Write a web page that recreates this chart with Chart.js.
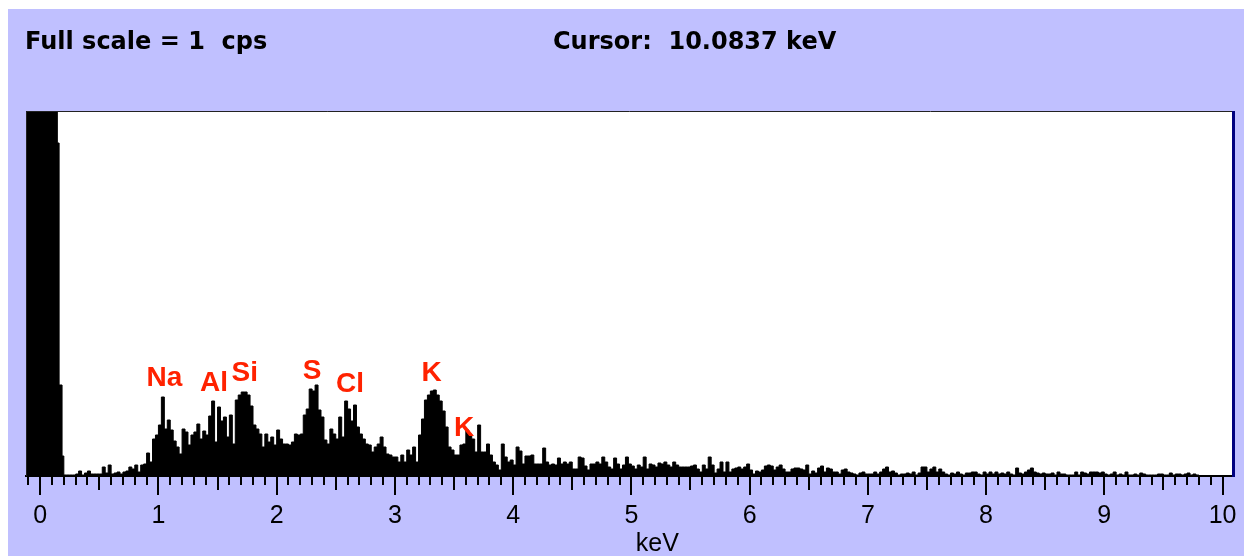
<!DOCTYPE html>
<html>
<head>
<meta charset="utf-8">
<script src="https://cdn.jsdelivr.net/npm/chart.js@4.4.1/dist/chart.umd.min.js"></script>
<style>
  html, body { margin: 0; padding: 0; background: #fff; }
  body { width: 1244px; height: 556px; overflow: hidden; position: relative; }
  #panel { position: absolute; left: 8px; top: 9px; width: 1236px; height: 547px; background: #c0c0ff; }
  #panel canvas { position: absolute; left: 0; top: 0; }
  .hdr { position: absolute; font: bold 24px "DejaVu Sans", sans-serif; color: #000; white-space: pre; line-height: 24px; }
</style>
</head>
<body>
<div id="panel">
  <canvas id="spectrum" width="1236" height="547"></canvas>
  <div class="hdr" style="left:17px; top:20px">Full scale = 1  cps</div>
  <div class="hdr" style="left:545px; top:20px">Cursor:  10.0837 keV</div>
</div>
<script>
// y axis runs 0..FULL_SCALE counts, x axis in keV
const FULL_SCALE = 365;
const X_MIN = -0.12;
const X_MAX = 10.08;

// noise peak at zero energy (goes off scale)
const noiseEdges = [-0.12, 0.145, 0.16, 0.185];
const noiseCounts = [2000, 333, 91, 20];

// channels from 0.2 keV, 25 eV wide
const CH_START = 0.2;
const CH_WIDTH = 0.025;
const counts = [
  // 0.2 - 0.975
  1,1,1,1,2,5,1,3,5,2, 2,2,2,9,3,11,2,3,4,2, 4,5,9,7,11,4,11,12,23,14, 37,41,
  // 1.0 - 1.975
  51,79,47,56,46,35,29,22,47,44, 31,41,44,52,37,45,41,60,75,34, 69,55,59,39,61,32,76,81,84,84, 81,70,51,47,42,29,42,34,39,31,
  // 2.0 - 2.975
  46,37,32,32,31,34,42,41,42,61, 67,87,85,91,66,59,36,32,47,42, 37,59,39,75,67,55,71,49,42,37, 32,31,24,29,32,39,29,22,21,19,
  // 3.0 - 3.975
  19,14,21,14,26,21,29,14,41,57, 76,81,85,86,81,75,65,49,29,26, 21,21,31,32,46,42,37,24,51,24, 24,32,21,14,11,6,32,19,14,16,
  // 4.0 - 4.975
  11,29,25,12,20,20,21,12,12,12, 28,14,11,12,11,18,12,14,12,14, 7,7,19,18,10,6,12,12,14,12, 19,14,9,7,18,12,7,11,19,12,
  // 5.0 - 5.975
  10,7,11,9,19,7,12,11,9,13, 12,14,11,9,14,11,9,9,9,9, 10,11,7,4,11,7,19,11,3,7, 14,4,14,4,7,8,9,7,9,12,
  // 6.0 - 6.975
  6,2,5,4,6,10,11,10,6,9, 11,7,4,4,7,8,8,7,6,11, 2,5,3,8,10,4,8,7,4,4, 2,6,7,4,3,2,1,3,4,2,
  // 7.0 - 7.975
  2,2,4,2,4,7,9,4,5,3, 1,2,2,3,2,4,1,3,9,9, 4,7,9,4,7,4,2,1,3,2, 4,2,1,3,3,4,4,2,1,4,
  // 8.0 - 8.975
  2,4,2,4,2,3,2,4,2,1, 8,3,2,4,6,8,4,3,2,3, 2,2,3,1,4,2,2,1,1,1, 4,1,4,3,2,4,4,4,3,4,
  // 9.0 - 9.8
  2,1,2,4,1,2,1,4,1,1, 2,1,3,2,1,1,1,1,2,2, 1,1,3,1,2,2,1,2,3,1, 2,1,0
];

// element markers
const peakNames = ['Na', 'Al', 'Si', 'S', 'Cl', 'K', 'K'];
const peakEnergies = [1.05, 1.47, 1.73, 2.30, 2.62, 3.31, 3.585];
const peakLabelHeights = [98, 93, 103, 105, 92, 103, 48];

const points = noiseEdges.map((e, i) => ({ x: e, y: noiseCounts[i] }))
  .concat(counts.map((c, i) => ({ x: +(CH_START + i * CH_WIDTH).toFixed(3), y: c })));

const labelFont = '"Liberation Sans", Arial, sans-serif';

const framePlugin = {
  id: 'frame',
  beforeDraw(chart) {
    const { ctx, chartArea: a } = chart;
    ctx.save();
    ctx.fillStyle = '#fff';
    ctx.fillRect(a.left, a.top, a.width, a.height);
    ctx.restore();
  },
  afterDraw(chart) {
    const { ctx, chartArea: a, scales: { x, y } } = chart;
    ctx.save();
    // frame round the plot
    ctx.strokeStyle = '#222';
    ctx.lineWidth = 1;
    ctx.beginPath();
    ctx.moveTo(a.left + 0.5, a.bottom);
    ctx.lineTo(a.left + 0.5, a.top + 0.5);
    ctx.lineTo(a.right, a.top + 0.5);
    ctx.stroke();
    ctx.fillStyle = '#000080';
    ctx.fillRect(a.right, a.top, 3, a.height + 1);

    // minor ticks every 0.1 keV, longer at the halves
    ctx.strokeStyle = '#000';
    ctx.lineWidth = 2;
    ctx.beginPath();
    for (let k = -1; k <= 100; k++) {
      if (k % 10 === 0) continue;
      const px = Math.round(x.getPixelForValue(k / 10)) + 0.0;
      const len = (k % 5 === 0) ? 14 : 9;
      ctx.moveTo(px, a.bottom);
      ctx.lineTo(px, a.bottom + len);
    }
    ctx.stroke();

    // element labels
    ctx.fillStyle = '#ff2200';
    ctx.font = 'bold 28px ' + labelFont;
    ctx.textAlign = 'center';
    ctx.textBaseline = 'middle';
    peakNames.forEach((n, i) => {
      ctx.fillText(n, x.getPixelForValue(peakEnergies[i]), y.getPixelForValue(peakLabelHeights[i]));
    });

    // axis title
    ctx.fillStyle = '#000';
    ctx.font = '25px ' + labelFont;
    ctx.textBaseline = 'alphabetic';
    ctx.fillText('keV', x.getPixelForValue(5.22), a.bottom + 75);
    ctx.restore();
  }
};

new Chart(document.getElementById('spectrum'), {
  type: 'line',
  data: {
    datasets: [{
      data: points,
      stepped: true,
      fill: 'origin',
      borderColor: '#000',
      backgroundColor: '#000',
      borderWidth: 1,
      pointRadius: 0
    }]
  },
  options: {
    responsive: false,
    animation: false,
    events: [],
    layout: { padding: { left: 18, right: 12, top: 102, bottom: 0 } },
    plugins: { legend: { display: false }, tooltip: { enabled: false } },
    scales: {
      x: {
        type: 'linear',
        min: X_MIN,
        max: X_MAX,
        afterFit: (s) => { s.height = 80; },
        border: { color: '#000', width: 2 },
        grid: { drawOnChartArea: false, tickLength: 19, color: '#000', lineWidth: 2 },
        ticks: {
          stepSize: 1,
          includeBounds: false,
          padding: 6,
          color: '#000',
          maxRotation: 0,
          autoSkip: false,
          font: { family: labelFont, size: 25 }
        }
      },
      y: { display: false, min: 0, max: FULL_SCALE }
    }
  },
  plugins: [framePlugin]
});
</script>
</body>
</html>
